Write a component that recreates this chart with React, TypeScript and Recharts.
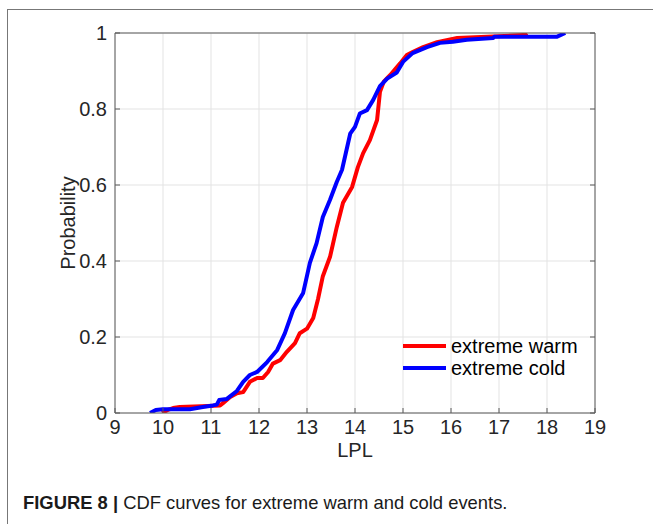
import { LineChart, Line, XAxis, YAxis, CartesianGrid } from 'recharts'

const warmLpl = [9.98, 10.1, 10.21, 10.35, 10.8, 11.19, 11.25, 11.4, 11.54, 11.67, 11.81, 11.96, 12.08, 12.19, 12.29, 12.44, 12.58, 12.75, 12.85, 13.0, 13.13, 13.23, 13.33, 13.48, 13.62, 13.75, 13.94, 14.06, 14.17, 14.31, 14.46, 14.52, 14.6, 14.73, 14.94, 15.08, 15.2, 15.42, 15.71, 16.13, 16.75, 17.54, 17.58]
const warmProb = [0, 0.008, 0.013, 0.016, 0.018, 0.02, 0.026, 0.042, 0.052, 0.055, 0.082, 0.092, 0.092, 0.108, 0.13, 0.139, 0.161, 0.184, 0.21, 0.222, 0.25, 0.3, 0.36, 0.411, 0.489, 0.553, 0.595, 0.647, 0.684, 0.718, 0.771, 0.845, 0.872, 0.889, 0.92, 0.942, 0.95, 0.963, 0.976, 0.987, 0.99, 0.995, 1.0]

const coldLpl = [9.73, 9.85, 10.0, 10.56, 10.83, 11.04, 11.12, 11.17, 11.33, 11.54, 11.67, 11.81, 11.96, 12.17, 12.38, 12.54, 12.71, 12.92, 13.06, 13.2, 13.33, 13.48, 13.62, 13.73, 13.9, 14.0, 14.1, 14.25, 14.38, 14.52, 14.67, 14.87, 15.0, 15.2, 15.5, 15.77, 16.04, 16.33, 16.88, 16.9, 18.2, 18.38]
const coldProb = [0, 0.008, 0.01, 0.01, 0.016, 0.02, 0.022, 0.034, 0.037, 0.058, 0.082, 0.1, 0.108, 0.134, 0.166, 0.21, 0.271, 0.316, 0.395, 0.447, 0.516, 0.561, 0.608, 0.64, 0.735, 0.753, 0.788, 0.797, 0.824, 0.86, 0.88, 0.896, 0.924, 0.947, 0.963, 0.974, 0.977, 0.982, 0.987, 0.99, 0.99, 1.0]

const xTicks = [9, 10, 11, 12, 13, 14, 15, 16, 17, 18, 19]
const yTicks = [0, 0.2, 0.4, 0.6, 0.8, 1]

const warm = warmLpl.map((x, i) => ({ x, p: warmProb[i] }))
const cold = coldLpl.map((x, i) => ({ x, p: coldProb[i] }))

const FONT = '"Liberation Sans", Arial, sans-serif'
const AXIS = '#5a5a5a'
const tickStyle = { fill: '#262626', fontSize: 20, fontFamily: FONT }

const legendRows = [
  { label: 'extreme warm', color: '#ff0000' },
  { label: 'extreme cold', color: '#0000ff' },
]

export default function App() {
  return (
    <div style={{ position: 'absolute', left: 0, top: 0, width: 653, height: 524, background: '#fff', overflow: 'hidden' }}>
      {/* figure frame */}
      <div style={{ position: 'absolute', left: 7, top: 9, width: 660, height: 530, borderTop: '1.5px solid #777', borderLeft: '1.5px solid #777' }} />

      <div style={{ position: 'absolute', left: 0, top: 0 }}>
        <LineChart width={653} height={470} margin={{ top: 32, right: 57, bottom: 17, left: 55 }}>
          <CartesianGrid stroke="#e3e3e3" strokeWidth={1} />
          <XAxis dataKey="x" type="number" domain={[9, 19]} ticks={xTicks} allowDataOverflow
            height={40} stroke={AXIS} tickSize={-5} tickMargin={12} tick={tickStyle}
            label={{
              content: (props: any) => {
                const vb = props.viewBox
                return <text x={vb.x + vb.width / 2} y={457} textAnchor="middle" fontSize={20} fontFamily={FONT} fill="#262626">LPL</text>
              },
            }} />
          <XAxis xAxisId="top" orientation="top" type="number" domain={[9, 19]} ticks={xTicks} allowDataOverflow
            height={1} stroke={AXIS} tickSize={-5} tickFormatter={() => ''} />
          <YAxis type="number" domain={[0, 1]} ticks={yTicks} allowDataOverflow
            width={60} stroke={AXIS} tickSize={-5} tickMargin={13} tick={tickStyle}
            label={{
              content: (props: any) => {
                const vb = props.viewBox
                const cx = vb.x + 20
                const cy = vb.y + vb.height / 2
                return <text x={cx} y={cy} transform={`rotate(-90 ${cx} ${cy})`} textAnchor="middle" fontSize={20} fontFamily={FONT} fill="#262626">Probability</text>
              },
            }} />
          <YAxis yAxisId="right" orientation="right" type="number" domain={[0, 1]} ticks={yTicks} allowDataOverflow
            width={1} stroke={AXIS} tickSize={-5} tickFormatter={() => ''} />
          <Line data={warm} dataKey="p" name="extreme warm" type="linear" stroke="#ff0000" strokeWidth={4}
            dot={false} activeDot={false} isAnimationActive={false} strokeLinejoin="round" />
          <Line data={cold} dataKey="p" name="extreme cold" type="linear" stroke="#0000ff" strokeWidth={4}
            dot={false} activeDot={false} isAnimationActive={false} strokeLinejoin="round" />
        </LineChart>
      </div>

      {/* legend */}
      <div style={{ position: 'absolute', left: 403, top: 335, fontFamily: FONT, fontSize: 20, color: '#000', lineHeight: '22px' }}>
        {legendRows.map(r => (
          <div key={r.label} style={{ display: 'flex', alignItems: 'center', whiteSpace: 'nowrap' }}>
            <span style={{ display: 'inline-block', width: 43, height: 4, background: r.color, marginRight: 5 }} />
            {r.label}
          </div>
        ))}
      </div>

      <div style={{ position: 'absolute', left: 23, top: 492, fontFamily: FONT, fontSize: 18.4, color: '#1a1a1a', whiteSpace: 'nowrap' }}>
        <b>FIGURE 8 |</b> CDF curves for extreme warm and cold events.
      </div>
    </div>
  )
}
